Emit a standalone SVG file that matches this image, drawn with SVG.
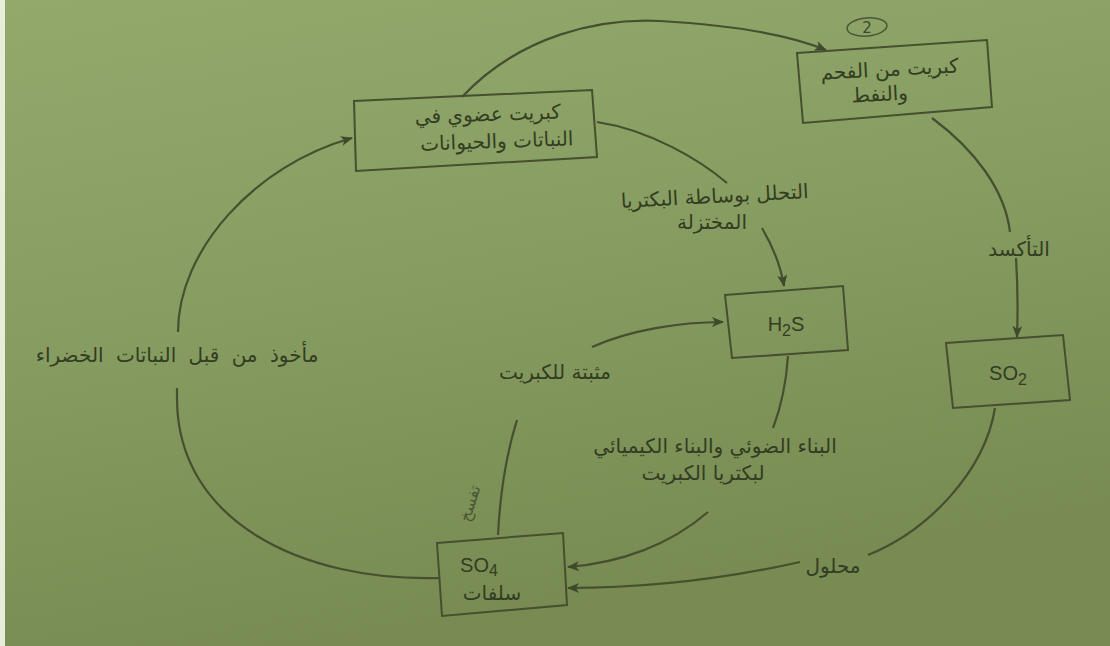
<svg xmlns="http://www.w3.org/2000/svg" width="1110" height="646" viewBox="0 0 1110 646">
<defs>
<linearGradient id="bg" x1="0" y1="0" x2="0.3" y2="1">
<stop offset="0" stop-color="#93a96c"/>
<stop offset="0.5" stop-color="#879c61"/>
<stop offset="1" stop-color="#778b52"/>
</linearGradient>
<marker id="ah" viewBox="0 0 12 10" refX="11" refY="5" markerWidth="13" markerHeight="10" markerUnits="userSpaceOnUse" orient="auto">
<path d="M0,0 L12,5 L0,10 L3,5 Z" fill="#3e4a2c"/>
</marker>
<style>
.box{fill:none;stroke:#44502f;stroke-width:2}
.ln{fill:none;stroke:#44502f;stroke-width:2.2}
.t{font-family:"DejaVu Sans","Noto Sans",sans-serif;fill:#323d22;font-size:20px;text-anchor:middle}
.lat{font-family:"Liberation Sans",Arial,sans-serif;fill:#323d22;font-size:20px;text-anchor:middle}
.hw{fill:none;stroke:#4a5634;stroke-width:1.5}
</style>
</defs>
<rect width="1110" height="646" fill="url(#bg)"/>
<rect x="0" y="0" width="5" height="646" fill="#e8ecd8"/>

<g id="connectors">
<path class="ln" d="M440,578 C300,582 178,520 177,400 L177,388"/>
<path class="ln" d="M178,332 C178,250 255,165 352,138" marker-end="url(#ah)"/>
<path class="ln" d="M462,97 C520,35 600,18 660,21 C730,25 790,35 826,50" marker-end="url(#ah)"/>
<path class="ln" d="M932,118 C975,150 1005,190 1010,232"/>
<path class="ln" d="M1016,258 C1018,290 1018,310 1017,337" marker-end="url(#ah)"/>
<path class="ln" d="M597,122 C650,130 700,160 727,183"/>
<path class="ln" d="M762,228 C772,245 780,262 784,286" marker-end="url(#ah)"/>
<path class="ln" d="M592,347 C630,330 680,322 723,322" marker-end="url(#ah)"/>
<path class="ln" d="M517,420 C506,455 500,495 498,535"/>
<path class="ln" d="M788,356 C786,385 780,410 773,428"/>
<path class="ln" d="M708,512 C670,545 620,563 568,567" marker-end="url(#ah)"/>
<path class="ln" d="M995,408 C985,470 930,530 868,555"/>
<path class="ln" d="M800,562 C720,580 640,588 568,588" marker-end="url(#ah)"/>
</g>

<g id="organic">
<polygon class="box" points="354,101 592,90 597,157 356,171"/>
<text class="t" x="488" y="121" direction="rtl" transform="rotate(-2 488 121)">كبريت عضوي في</text>
<text class="t" x="497" y="148" direction="rtl" transform="rotate(-2 497 148)">النباتات والحيوانات</text>
</g>

<g id="coal">
<polygon class="box" points="797,53 987,40 992,107 803,123"/>
<text class="t" x="890" y="76" direction="rtl" transform="rotate(-3 890 76)">كبريت من الفحم</text>
<text class="t" x="880" y="101" direction="rtl" transform="rotate(-3 880 101)">والنفط</text>
<ellipse class="hw" cx="867" cy="27" rx="20" ry="9" transform="rotate(-5 867 27)"/>
<text x="867" y="33" font-family="'DejaVu Sans',sans-serif" font-size="15" fill="#3d4829" text-anchor="middle">2</text>
</g>

<g id="h2s">
<polygon class="box" points="725,295 843,286 848,350 732,358"/>
<text class="lat" x="786" y="331">H<tspan font-size="16" dy="5">2</tspan><tspan dy="-5">S</tspan></text>
</g>

<g id="so2">
<polygon class="box" points="946,343 1063,335 1070,400 953,408"/>
<text class="lat" x="1008" y="380">SO<tspan font-size="16" dy="5">2</tspan></text>
</g>

<g id="so4">
<polygon class="box" points="437,543 563,533 567,605 442,616"/>
<text class="lat" x="479" y="572">SO<tspan font-size="16" dy="4">4</tspan></text>
<text class="t" x="492" y="600" direction="rtl">سلفات</text>
</g>

<g id="labels">
<text class="t" x="715" y="203" direction="rtl" transform="rotate(-3 715 203)">التحلل بوساطة البكتريا</text>
<text class="t" x="712" y="229" direction="rtl">المختزلة</text>
<text class="t" x="1019" y="256" direction="rtl">التأكسد</text>
<text class="t" x="177" y="362" direction="rtl" style="word-spacing:6px">مأخوذ من قبل  النباتات الخضراء</text>
<text class="t" x="555" y="379" direction="rtl">مثبتة للكبريت</text>
<text class="t" x="715" y="453" direction="rtl">البناء الضوئي والبناء الكيميائي</text>
<text class="t" x="703" y="480" direction="rtl">لبكتريا الكبريت</text>
<text class="t" x="833" y="573" direction="rtl">محلول</text>
<text x="475" y="505" font-family="'DejaVu Sans',sans-serif" font-size="16" fill="#4a5634" text-anchor="middle" direction="rtl" transform="rotate(-72 475 505)">تفسخ</text>
</g>
</svg>
